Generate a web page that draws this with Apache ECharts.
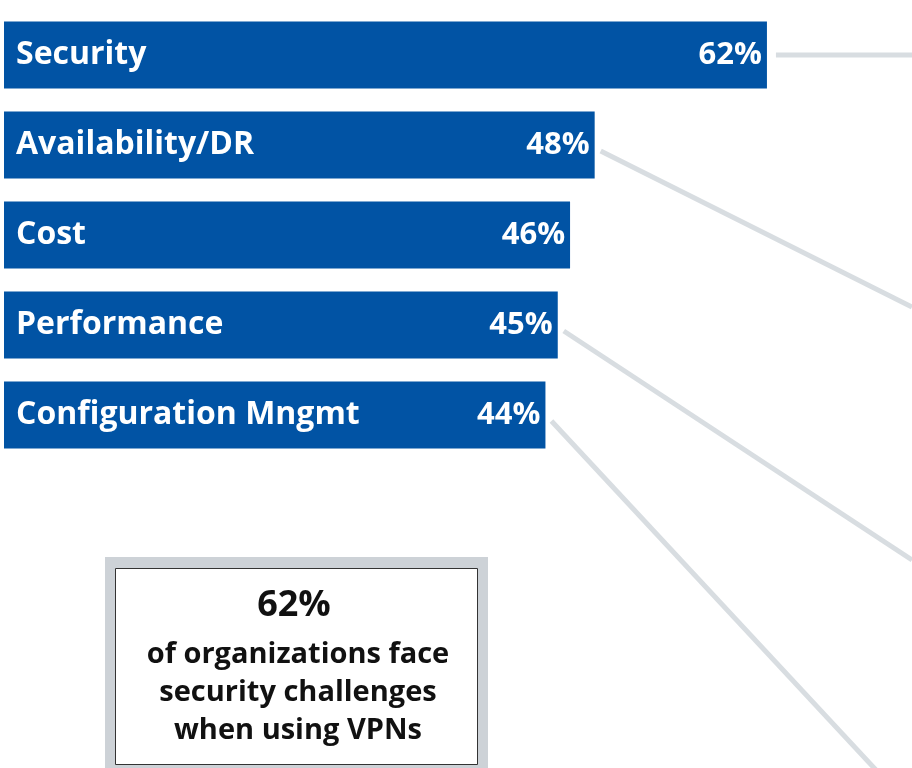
<!DOCTYPE html>
<html>
	<head>
		<meta charset="utf-8" />
		<title>VPN challenges</title>
		<style type="text/css">
			html, body {margin:0;padding:0;background:#fff;}
			#chart {width:912px;height:768px;}
		</style>
	</head>
	<body>
		<div id="chart"></div>
		<script src="https://cdn.jsdelivr.net/npm/echarts@6/dist/echarts.min.js"></script>
		<script type="text/javascript">
			// data
			const categories = ['Security', 'Availability/DR', 'Cost', 'Performance', 'Configuration Mngmt'];
			const shares = [62, 48, 46, 45, 44];
			const calloutValue = '62%';
			const calloutLines = ['of organizations face', 'security challenges', 'when using VPNs'];

			const blue = '#0153a4';
			const grey = '#d8dde1';
			const font = '"Open Sans"';

			const chart = echarts.init(document.getElementById('chart'));
			const opt = {
				animation: false,
				grid: {left: 4, right: 22, top: 10, height: 450},
				xAxis: {
					type: 'value',
					min: 0,
					max: 72,
					show: false
				},
				yAxis: {
					type: 'category',
					inverse: true,
					data: categories,
					z: 10,
					axisLine: {show: false},
					axisTick: {show: false},
					axisLabel: {
						inside: true,
						margin: 12,
						color: '#fff',
						fontFamily: font,
						fontWeight: 'bold',
						fontSize: 32
					}
				},
				series: [{
					type: 'bar',
					data: shares,
					barWidth: 67,
					itemStyle: {color: blue},
					label: {
						show: true,
						position: 'insideRight',
						distance: 5,
						formatter: '{c}%',
						color: '#fff',
						fontFamily: font,
						fontWeight: 'bold',
						fontSize: 31
					}
				}]
			};
			chart.setOption(opt);

			// connector lines from the bar ends (Cost has none)
			const targets = [[912, null], [912, 307], null, [912, 560], [876, 770]];
			const elements = [];
			shares.forEach((v, i) => {
				const t = targets[i];
				if (!t) return;
				const p = chart.convertToPixel({gridIndex: 0}, [v, i]);
				const flat = t[1] === null;
				const x1 = p[0] + (flat ? 9 : 6);
				const y1 = p[1] + (flat ? 0 : 6);
				elements.push({
					type: 'line',
					shape: {x1: x1, y1: y1, x2: t[0], y2: flat ? y1 : t[1]},
					style: {stroke: grey, lineWidth: 5},
					silent: true
				});
			});

			// callout box
			const cx = 296;
			elements.push({
				type: 'rect',
				shape: {x: 105, y: 557, width: 383, height: 230},
				style: {fill: '#cdd2d7'},
				silent: true
			}, {
				type: 'rect',
				shape: {x: 115.5, y: 568.5, width: 362, height: 196},
				style: {fill: '#fff', stroke: '#333', lineWidth: 1},
				silent: true
			}, {
				type: 'text',
				x: cx - 2, y: 606,
				style: {
					text: calloutValue, fill: '#111', align: 'center', verticalAlign: 'middle',
					font: 'bold 36px ' + font
				}
			});
			calloutLines.forEach((s, i) => {
				elements.push({
					type: 'text',
					x: cx + 2, y: 655 + i * 38,
					style: {
						text: s, fill: '#111', align: 'center', verticalAlign: 'middle',
						font: 'bold 29px ' + font
					}
				});
			});
			chart.setOption({graphic: {elements: elements}});
		</script>
	</body>
</html>
